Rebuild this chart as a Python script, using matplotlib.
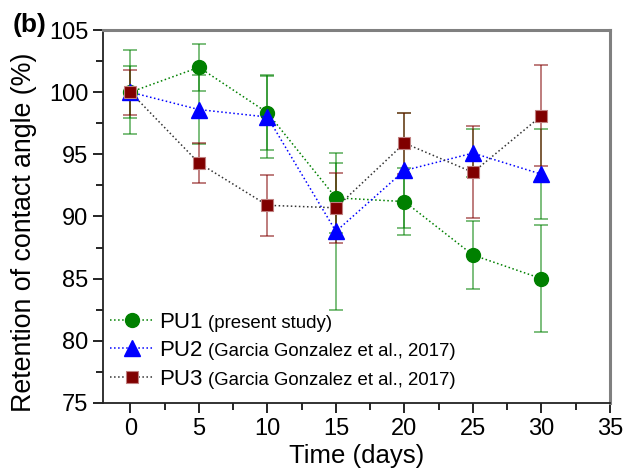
import numpy as np
import matplotlib
matplotlib.use("Agg")
import matplotlib.pyplot as plt
from matplotlib.ticker import MultipleLocator

plt.rcParams['font.family'] = ['Liberation Sans', 'DejaVu Sans']

days = [0, 5, 10, 15, 20, 25, 30]

pu1 = [100.0, 102.0, 98.35, 91.5, 91.2, 86.9, 85.0]
pu1_err = [3.4, 1.9, 3.0, 2.8, 2.7, 2.7, 4.3]

pu2 = [100.0, 98.6, 98.0, 88.8, 93.7, 95.1, 93.4]
pu2_err = [2.1, 2.8, 3.3, 6.3, 4.6, 1.9, 3.6]

pu3 = [100.0, 94.3, 90.9, 90.7, 95.9, 93.55, 98.1]
pu3_err = [1.8, 1.6, 2.45, 2.8, 2.45, 3.7, 4.05]

labels = ['PU1', 'PU2', 'PU3']
notes = ['(present study)', '(Garcia Gonzalez et al., 2017)', '(Garcia Gonzalez et al., 2017)']

fig = plt.figure(figsize=(6.25, 4.71), dpi=100)
ax = fig.add_axes([0.1648, 0.1444, 0.8112, 0.7919])

# error bars (PU2 bars are drawn green like in the original)
ax.errorbar(days, pu1, yerr=pu1_err, fmt='none', ecolor='green', alpha=0.6,
            elinewidth=1.2, capsize=5, capthick=1.2, zorder=1)
ax.errorbar(days, pu2, yerr=pu2_err, fmt='none', ecolor='green', alpha=0.6,
            elinewidth=1.2, capsize=5, capthick=1.2, zorder=1)
ax.errorbar(days, pu3, yerr=pu3_err, fmt='none', ecolor='#800000', alpha=0.6,
            elinewidth=1.2, capsize=5, capthick=1.2, zorder=2)

h1, = ax.plot(days, pu1, linestyle=':', color='green', lw=1.1, marker='o',
              ms=10, mfc='green', mec='green', zorder=3)
h2, = ax.plot(days, pu2, linestyle=':', color='blue', lw=1.1, marker='^',
              ms=11, mfc='blue', mec='blue', zorder=4)
h3, = ax.plot(days, pu3, linestyle=':', color='#333333', lw=1.1, marker='s',
              ms=9, mfc='#800000', mec='#c08080', mew=0.8, zorder=5)

ax.set_xlim(-2, 35)
ax.set_ylim(75, 105)
ax.xaxis.set_major_locator(MultipleLocator(5))
ax.xaxis.set_minor_locator(MultipleLocator(2.5))
ax.yaxis.set_major_locator(MultipleLocator(5))
ax.yaxis.set_minor_locator(MultipleLocator(2.5))
ax.tick_params(which='major', direction='out', length=7, width=1.2, labelsize=17)
ax.tick_params(which='minor', direction='out', length=5, width=1.2)
ax.tick_params(top=False, right=False)

for s in ['left', 'bottom']:
    ax.spines[s].set_linewidth(1.3)
    ax.spines[s].set_color('#222222')
for s in ['top', 'right']:
    ax.spines[s].set_linewidth(2.2)
    ax.spines[s].set_color('#808080')

ax.set_xlabel('Time (days)', fontsize=18.5, labelpad=3)
ax.set_ylabel('Retention of contact angle (%)', fontsize=19.3)
ax.yaxis.set_label_coords(-0.13, 0.457)

fig.text(0.021, 0.972, '(b)', fontsize=19, fontweight='bold', va='top')

leg = ax.legend([h1, h2, h3], labels, loc='center left', bbox_to_anchor=(0.0138, 0.14),
                frameon=False, fontsize=16, handlelength=1.95, handletextpad=0.25,
                labelspacing=0.33, borderpad=0, borderaxespad=0)

fig.canvas.draw()
r = fig.canvas.get_renderer()
inv = ax.transAxes.inverted()
for t, note in zip(leg.get_texts(), notes):
    bb = t.get_window_extent(r)
    x, y = inv.transform((bb.x1 + 6, (bb.y0 + bb.y1) / 2 - 1))
    ax.text(x, y, note, transform=ax.transAxes, fontsize=13.4, va='center', ha='left')

fig.savefig('out.png', dpi=100)
